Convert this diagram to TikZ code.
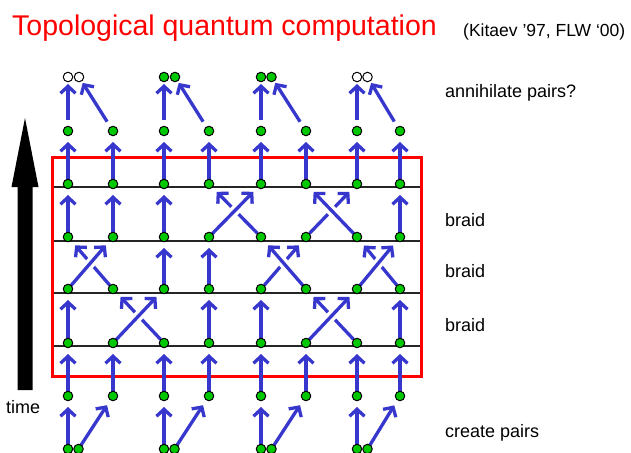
\documentclass[tikz,border=0pt]{standalone}
\usepackage{fontspec}
\setmainfont{Liberation Sans}
\usetikzlibrary{arrows.meta,calc}
\definecolor{arrblue}{RGB}{55,55,205}
\definecolor{dotgreen}{RGB}{0,200,0}
\pgfdeclarelayer{bg}
\pgfsetlayers{bg,main}
\begin{document}
\begin{tikzpicture}[x=1pt,y=-1pt,
  dot/.style={circle,draw=black,fill=dotgreen,line width=1pt,inner sep=0pt,minimum size=9.5pt},
  wdot/.style={dot,fill=white},
  arr/.style={draw=arrblue,line width=3.3pt,-{Straight Barb[length=7pt,width=15pt]},shorten >=11pt,shorten <=1pt},
  toparr/.style={arr,shorten >=7pt,shorten <=11pt},
  underarr/.style={arr,shorten <=5pt},
  halo/.style={draw=white,line width=10pt},
  tline/.style={draw=black!85,line width=1.4pt},
  redbox/.style={draw=red,line width=3pt},
  lbl/.style={font=\fontsize{18}{18}\selectfont,anchor=base west,inner sep=0pt},
]
\useasboundingbox (0,0) rectangle (631,452);
% columns and rows
\def\cols{{0,68,113,164,209,261,306,357,400}}
\def\rows{{449,396,343,289,237,184,131,77}}
% grid dots rows 1..6
\foreach \r in {1,...,6}{
  \foreach \c in {1,...,8}{
    \pgfmathsetmacro{\xx}{\cols[\c]}
    \pgfmathsetmacro{\yy}{\rows[\r]}
    \node[dot] (n\r-\c) at (\xx,\yy) {};
  }
}
% bottom pairs
\foreach \k/\x in {1/68,2/164,3/261,4/357}{
  \node[dot] (bL\k) at (\x,449) {};
  \node[dot] (bR\k) at (\x+10.5,449) {};
}
% top pairs
\node[wdot] (tL1) at (68,77) {};
\node[wdot] (tR1) at (79,77) {};
\node[dot] (tL2) at (164,77) {};
\node[dot] (tR2) at (175,77) {};
\node[dot] (tL3) at (261,77) {};
\node[dot] (tR3) at (271.5,77) {};
\node[wdot] (tL4) at (357,77) {};
\node[wdot] (tR4) at (367.5,77) {};

\begin{pgfonlayer}{bg}
  % red box and time lines
  \coordinate (boxNW) at (52,157);
  \coordinate (boxSE) at (421,376);
  \foreach \y/\i in {187/a,241/b,293/c,346/d}{
    \coordinate (L\i) at (52,\y);
    \coordinate (R\i) at (421,\y);
    \path[tline] (L\i) -- (R\i);
  }
  \path[redbox] (boxNW) rectangle (boxSE);
  % creation arrows
  \foreach \k in {1,...,4}{
    \pgfmathtruncatemacro{\ca}{2*\k-1}
    \pgfmathtruncatemacro{\cb}{2*\k}
    \path[arr] (bL\k.center) -- (n1-\ca.center);
    \path[arr] (bR\k.center) -- (n1-\cb.center);
    \path[toparr] (n6-\ca.center) -- (tL\k.center);
    \path[toparr] (n6-\cb.center) -- (tR\k.center);
  }
  % straight rows
  \foreach \c in {1,...,8}{
    \path[arr] (n1-\c.center) -- (n2-\c.center);
    \path[arr] (n5-\c.center) -- (n6-\c.center);
  }
  \foreach \c in {1,4,5,8}{\path[arr] (n2-\c.center) -- (n3-\c.center);}
  \foreach \c in {3,4}{\path[arr] (n3-\c.center) -- (n4-\c.center);}
  \foreach \c in {1,2,3,8}{\path[arr] (n4-\c.center) -- (n5-\c.center);}
  % crossings: row from, row to, over from col, over to col
  \foreach \ra/\rb/\oa/\ob in {2/3/2/3, 2/3/6/7, 3/4/1/2, 3/4/6/5, 3/4/7/8, 4/5/4/5, 4/5/7/6}{
    \path[underarr] (n\ra-\ob.center) -- (n\rb-\oa.center);
    \path[halo] ($(n\ra-\oa.center)!0.4!(n\rb-\ob.center)$) -- ($(n\ra-\oa.center)!0.6!(n\rb-\ob.center)$);
    \path[arr] (n\ra-\oa.center) -- (n\rb-\ob.center);
  }
\end{pgfonlayer}

% time arrow
\fill[black] (17.5,390) -- (32.5,390) -- (32.5,187) -- (38.5,187) -- (25,118) -- (11.5,187) -- (17.5,187) -- cycle;
\node[lbl] (time) at (6,413) {time};

% texts
\node[font=\fontsize{28.5}{28.5}\selectfont,text=red,anchor=base west,inner sep=0pt] (title) at (12,36) {Topological quantum computation};
\node[font=\fontsize{17.5}{17.5}\selectfont,anchor=base west,inner sep=0pt] (cite) at (463,37) {(Kitaev ’97, FLW ‘00)};
\node[lbl] (ann) at (445,97) {annihilate pairs?};
\node[lbl] (br1) at (445,226) {braid};
\node[lbl] (br2) at (445,277) {braid};
\node[lbl] (br3) at (445,331) {braid};
\node[lbl] (cre) at (445,437) {create pairs};
\end{tikzpicture}
\end{document}
